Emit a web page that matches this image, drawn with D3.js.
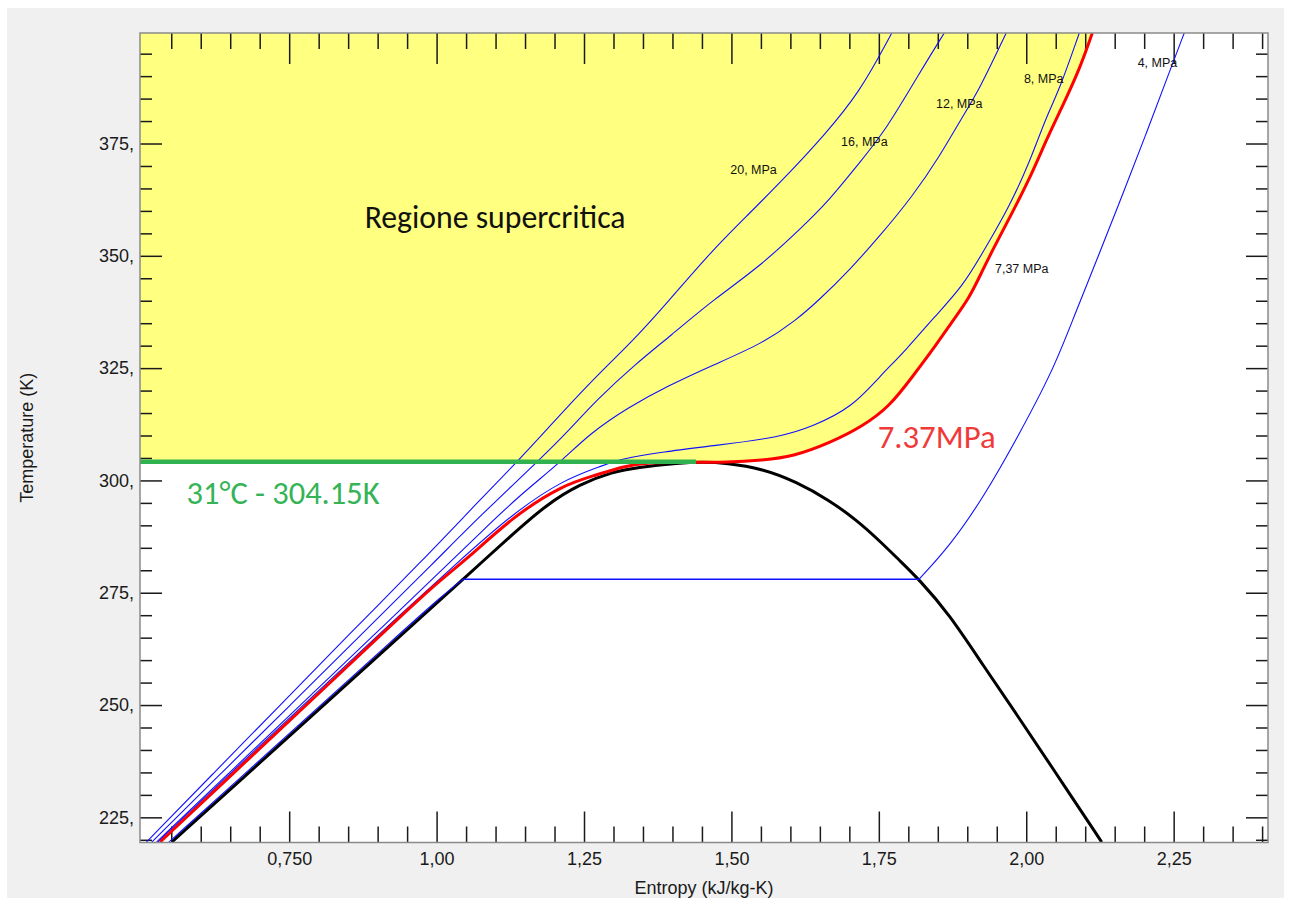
<!DOCTYPE html>
<html><head><meta charset="utf-8">
<script src="https://cdn.jsdelivr.net/npm/d3@7"></script>
<style>body{margin:0;background:#fff}</style>
</head><body>
<svg id="c" width="1290" height="902"></svg>
<script>
// ---------- axis ticks ----------
const xMajorTicks = [0.75, 1.0, 1.25, 1.5, 1.75, 2.0, 2.25];
const xTickLabels = ["0,750", "1,00", "1,25", "1,50", "1,75", "2,00", "2,25"];
const yMajorTicks = [225, 250, 275, 300, 325, 350, 375];
const yTickLabels = ["225,", "250,", "275,", "300,", "325,", "350,", "375,"];

// ---------- data: [entropy kJ/kg-K, temperature K] ----------
const criticalT = 304.15;
const criticalLineEndS = 1.44;

const saturationDome = [
  [0.551,219.5],[0.693,236.3],[0.812,250.4],[0.924,263.7],[1.019,274.9],[1.045,278.0],
  [1.075,281.6],[1.129,288.0],[1.186,294.6],[1.243,299.2],[1.299,301.9],[1.339,302.9],
  [1.412,303.9],[1.450,304.1],[1.491,303.9],[1.553,302.6],[1.610,299.7],[1.666,295.6],
  [1.712,291.2],[1.751,286.6],[1.785,282.2],[1.818,278.0],[1.869,270.3],[1.927,258.8],
  [1.987,247.3],[2.046,235.7],[2.128,219.5]
];
const isobar737 = [
  [0.531,219.5],[0.694,239.6],[0.806,253.3],[0.911,266.3],[1.005,277.8],[1.050,282.3],
  [1.129,291.9],[1.214,299.0],[1.271,301.2],[1.316,303.1],[1.356,304.0],[1.440,304.1],
  [1.491,304.0],[1.553,304.5],[1.604,305.3],[1.666,308.3],[1.722,312.0],[1.768,316.4],
  [1.807,323.1],[1.841,329.0],[1.875,335.5],[1.903,340.5],[1.925,346.5],[1.943,351.3],
  [1.976,359.5],[2.010,368.4],[2.034,375.8],[2.061,383.2],[2.090,391.4],[2.112,399.6]
];
const isobar8 = [
  [0.527,219.5],[0.652,235.0],[0.774,250.0],[0.896,265.0],[1.040,282.3],[1.130,292.7],
  [1.214,300.1],[1.282,303.3],[1.310,304.7],[1.384,306.4],[1.469,307.7],[1.582,309.6],
  [1.638,312.0],[1.706,316.4],[1.751,323.1],[1.796,329.0],[1.844,336.4],[1.892,343.1],
  [1.932,352.0],[1.971,360.9],[2.005,370.6],[2.034,381.0],[2.056,386.9],[2.090,399.6]
];
const isobar12 = [
  [0.525,219.5],[0.649,235.0],[0.769,250.0],[0.889,265.0],[1.027,282.3],[1.073,288.2],
  [1.140,296.6],[1.209,303.9],[1.260,310.5],[1.327,316.4],[1.390,320.9],[1.469,325.7],
  [1.553,330.5],[1.610,335.7],[1.649,340.2],[1.700,346.8],[1.751,354.3],[1.807,363.2],
  [1.853,372.1],[1.892,381.0],[1.920,386.9],[1.966,399.6]
];
const isobar16 = [
  [0.517,219.5],[0.636,235.0],[0.752,250.0],[0.867,265.0],[1.000,282.3],[1.073,292.0],
  [1.169,303.9],[1.220,310.5],[1.271,317.9],[1.339,326.1],[1.395,332.0],[1.469,340.2],
  [1.548,347.6],[1.621,356.5],[1.666,362.4],[1.717,370.7],[1.762,378.0],[1.819,390.7],
  [1.861,399.6]
];
const isobar20 = [
  [0.508,219.5],[0.623,235.0],[0.735,250.0],[0.846,265.0],[0.977,282.3],[1.073,295.6],
  [1.135,303.9],[1.186,311.2],[1.243,319.4],[1.299,326.8],[1.339,332.0],[1.390,339.4],
  [1.468,351.3],[1.525,358.7],[1.598,368.4],[1.655,376.5],[1.717,386.2],[1.772,399.6]
];
const isobar4Liquid = [
  [0.546,219.5],[0.688,236.3],[0.807,250.4],[0.919,263.7],[1.014,274.9],[1.045,278.0]
];
const isobar4Vapor = [
  [1.818,278.0],[1.869,285.2],[1.927,296.1],[1.987,310.0],[2.046,324.7],[2.078,335.5],
  [2.124,350.5],[2.163,363.5],[2.203,377.0],[2.242,390.7],[2.268,399.6]
];

// isobar labels: [text, s, T]
const isobarLabels = [
  ["20, MPa", 1.498, 368.2], ["16, MPa", 1.686, 374.5], ["12, MPa", 1.847, 382.9],
  ["8, MPa", 1.996, 388.5], ["7,37 MPa", 1.947, 346.2], ["4, MPa", 2.189, 392.0]
];

// ---------- layout ----------
const svg = d3.select("#c");
const L = 140, R = 1268, T0 = 33, B = 842.5;
const x = d3.scaleLinear().domain([0.497, 2.41]).range([L, R]);
const y = d3.scaleLinear().domain([219.4, 399.6]).range([B, T0]);

svg.append("rect").attr("x", 7).attr("y", 8).attr("width", 1277).attr("height", 890).attr("fill", "#f0f0f0");
svg.append("rect").attr("x", L).attr("y", T0).attr("width", R - L).attr("height", B - T0).attr("fill", "#ffffff");

svg.append("clipPath").attr("id", "clip").append("rect")
  .attr("x", L).attr("y", T0).attr("width", R - L).attr("height", B - T0);
const plot = svg.append("g").attr("clip-path", "url(#clip)");

const line = d3.line().x(d => x(d[0])).y(d => y(d[1])).curve(d3.curveBasis);

// supercritical region
const yDom = y.domain();
const boundary = [[x.domain()[0], criticalT], [criticalLineEndS, criticalT]]
  .concat(isobar737.filter(d => d[0] > criticalLineEndS));
const area = d3.area().x(d => x(d[0])).y0(y(yDom[1])).y1(d => y(d[1])).curve(d3.curveBasis);
plot.append("path").datum(boundary).attr("d", area).attr("fill", "#ffff80");

// ticks
const tickCol = "#1a1a1a";
const xMinor = d3.range(11, 49).filter(i => i % 5 !== 0).map(i => i * 0.05);
const yMinor = d3.range(44, 80).filter(i => i % 5 !== 0).map(i => i * 5);
function styleAxis(g) {
  g.select(".domain").remove();
  g.selectAll("line").attr("stroke", tickCol).attr("stroke-width", 1.5);
  g.selectAll("text").attr("fill", "#1a1a1a").style("font", "18px 'Liberation Sans', Arial, sans-serif");
}
const axes = svg.append("g");
axes.append("g").attr("transform", `translate(0,${B})`)
  .call(d3.axisBottom(x).tickValues(xMajorTicks).tickSize(-31).tickPadding(10).tickFormat((d, i) => xTickLabels[i]))
  .call(styleAxis);
axes.append("g").attr("transform", `translate(0,${B})`)
  .call(d3.axisBottom(x).tickValues(xMinor).tickSize(-16).tickFormat("")).call(styleAxis);
axes.append("g").attr("transform", `translate(0,${T0})`)
  .call(d3.axisTop(x).tickValues(xMajorTicks).tickSize(-31).tickFormat("")).call(styleAxis);
axes.append("g").attr("transform", `translate(0,${T0})`)
  .call(d3.axisTop(x).tickValues(xMinor).tickSize(-16).tickFormat("")).call(styleAxis);
axes.append("g").attr("transform", `translate(${L},0)`)
  .call(d3.axisLeft(y).tickValues(yMajorTicks).tickSize(-22).tickPadding(6).tickFormat((d, i) => yTickLabels[i]))
  .call(styleAxis);
axes.append("g").attr("transform", `translate(${L},0)`)
  .call(d3.axisLeft(y).tickValues(yMinor).tickSize(-12).tickFormat("")).call(styleAxis);
axes.append("g").attr("transform", `translate(${R},0)`)
  .call(d3.axisRight(y).tickValues(yMajorTicks).tickSize(-22).tickFormat("")).call(styleAxis);
axes.append("g").attr("transform", `translate(${R},0)`)
  .call(d3.axisRight(y).tickValues(yMinor).tickSize(-12).tickFormat("")).call(styleAxis);

// curves
const curves = svg.append("g").attr("clip-path", "url(#clip)");
curves.append("path").datum(saturationDome).attr("d", line)
  .attr("fill", "none").attr("stroke", "#000").attr("stroke-width", 3);
const blue = "#1010ff";
[isobar20, isobar16, isobar12, isobar8, isobar4Liquid, isobar4Vapor].forEach(d => {
  curves.append("path").datum(d).attr("d", line)
    .attr("fill", "none").attr("stroke", blue).attr("stroke-width", 1.1);
});
const liqEnd = isobar4Liquid[isobar4Liquid.length - 1], vapStart = isobar4Vapor[0];
curves.append("path").datum([liqEnd, vapStart]).attr("d", d3.line().x(d => x(d[0])).y(d => y(d[1])))
  .attr("fill", "none").attr("stroke", blue).attr("stroke-width", 1.3);
curves.append("path").datum(isobar737).attr("d", line)
  .attr("fill", "none").attr("stroke", "#ff0000").attr("stroke-width", 3);
curves.append("line")
  .attr("x1", x(x.domain()[0])).attr("x2", x(criticalLineEndS))
  .attr("y1", y(criticalT)).attr("y2", y(criticalT))
  .attr("stroke", "#2fb24f").attr("stroke-width", 4.5);

// isobar labels
svg.append("g").selectAll("text").data(isobarLabels).join("text")
  .attr("x", d => x(d[1])).attr("y", d => y(d[2])).text(d => d[0])
  .attr("fill", "#111").style("font", "12.5px 'Liberation Sans', Arial, sans-serif");

// big annotations
function bigLabel(txt, s, t, color, targetW) {
  const el = svg.append("text").attr("x", x(s)).attr("y", y(t)).text(txt)
    .attr("fill", color).style("font-family", "Carlito, Calibri, Lato, 'Open Sans', sans-serif")
    .style("font-size", "32px");
  const w = el.node().getComputedTextLength();
  el.style("font-size", (32 * targetW / w).toFixed(2) + "px");
}
bigLabel("Regione supercritica", 0.878, 356.1, "#111", 261);
bigLabel("31°C - 304.15K", 0.576, 294.7, "#34b456", 193);
bigLabel("7.37MPa", 1.748, 307.2, "#f03a3a", 118);

// frame
svg.append("rect").attr("x", L).attr("y", T0).attr("width", R - L).attr("height", B - T0)
  .attr("fill", "none").attr("stroke", "#8a8a8a").attr("stroke-width", 1.5);

// axis titles
svg.append("text").attr("x", (L + R) / 2).attr("y", 894).attr("text-anchor", "middle")
  .text("Entropy (kJ/kg-K)").attr("fill", "#1a1a1a").style("font", "18px 'Liberation Sans', Arial, sans-serif");
svg.append("text").attr("transform", `translate(33,${(T0 + B) / 2}) rotate(-90)`).attr("text-anchor", "middle")
  .text("Temperature (K)").attr("fill", "#1a1a1a").style("font", "18px 'Liberation Sans', Arial, sans-serif");
</script>
</body></html>
